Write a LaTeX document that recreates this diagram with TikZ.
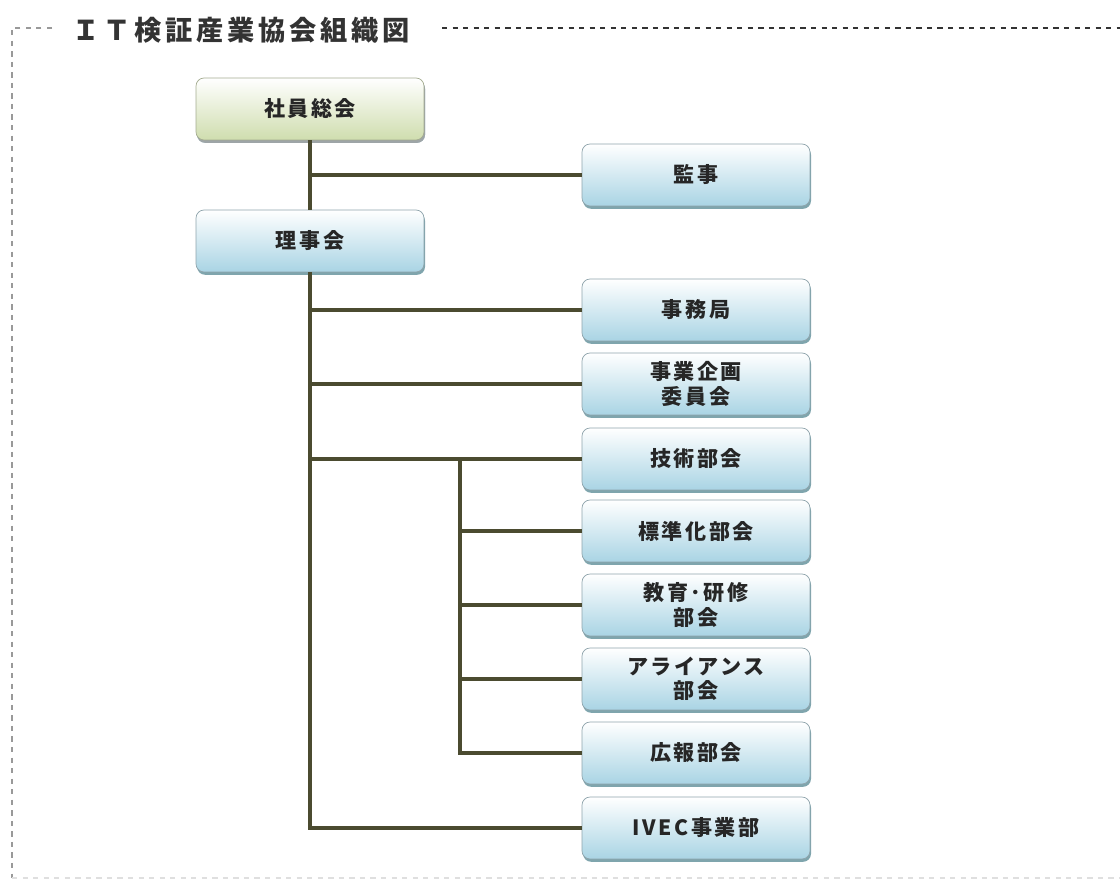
\documentclass[tikz,border=0pt]{standalone}
\usepackage{fontspec}
\newfontfamily\cjk[LetterSpace=12]{Noto Sans CJK JP}
\newfontfamily\cjktitle[LetterSpace=14]{Noto Sans CJK JP}
\usetikzlibrary{shadows}

\definecolor{bluebot}{HTML}{A9D4E4}
\definecolor{greenbot}{HTML}{CFDDAE}
\definecolor{boxline}{HTML}{8FA4AC}
\definecolor{greenline}{HTML}{A4AC90}
\definecolor{shadowc}{HTML}{5F8E99}
\definecolor{linkc}{HTML}{4B4B30}

\begin{document}
\begin{tikzpicture}
    [
        x = 0.02cm, y = -0.02cm,
        unit/.style     = {draw=boxline, rounded corners=1.6mm, top color=white, bottom color=bluebot,
                           minimum width=4.56cm, minimum height=1.24cm, align=center,
                           font=\cjk\bfseries\fontsize{12}{14}\selectfont, text=black!85,
                           drop shadow={shadow xshift=0.6pt, shadow yshift=-1.6pt, fill=shadowc, opacity=0.8}},
        topunit/.style  = {unit, draw=greenline, bottom color=greenbot,
                           drop shadow={shadow xshift=0.6pt, shadow yshift=-1.6pt, fill=gray!70, opacity=0.8}},
        link/.style     = {draw=linkc, line width=2.2pt},
        frame/.style    = {dash pattern=on 3pt off 3pt, line width=0.9pt}
    ]
    \useasboundingbox (0,0) rectangle (1120,881);

    % frame and title
    \draw [frame, gray!80] (52,28) -| (12,878);
    \draw [frame, gray!25] (12,878) -- (1120,878);
    \draw [frame, black!80, line width=1.1pt] (442,28) -- (1120,28);
    \node [anchor=west, font=\cjktitle\bfseries\fontsize{15.5}{17}\selectfont, text=black!80] at (66,30) (title) {ＩＴ検証産業協会組織図};

    % boxes
    \node [topunit] at (310,109) (general) {社員総会};
    \node [unit] at (310,241) (board) {理事会};
    \node [unit] at (696,175) (auditor) {監事};
    \node [unit] at (696,310) (office) {事務局};
    \node [unit] at (696,384) (planning) {事業企画\\委員会};
    \node [unit] at (696,459) (tech) {技術部会};
    \node [unit] at (696,531) (standard) {標準化部会};
    \node [unit] at (696,605) (education) {教育･研修\\部会};
    \node [unit] at (696,679) (alliance) {アライアンス\\部会};
    \node [unit] at (696,753) (pr) {広報部会};
    \node [unit] at (696,828) (ivec) {IVEC事業部};

    % connectors
    \coordinate (sub) at (460,459);
    \draw [link] (general) -- (board);
    \draw [link] (auditor.west -| general.south) -- (auditor);
    \draw [link] (board.south) |- (ivec);
    \draw [link] (office.west -| board.south) -- (office);
    \draw [link] (planning.west -| board.south) -- (planning);
    \draw [link] (tech.west -| board.south) -- (tech);
    \draw [link] (sub) |- (pr);
    \draw [link] (standard.west -| sub) -- (standard);
    \draw [link] (education.west -| sub) -- (education);
    \draw [link] (alliance.west -| sub) -- (alliance);
\end{tikzpicture}
\end{document}
